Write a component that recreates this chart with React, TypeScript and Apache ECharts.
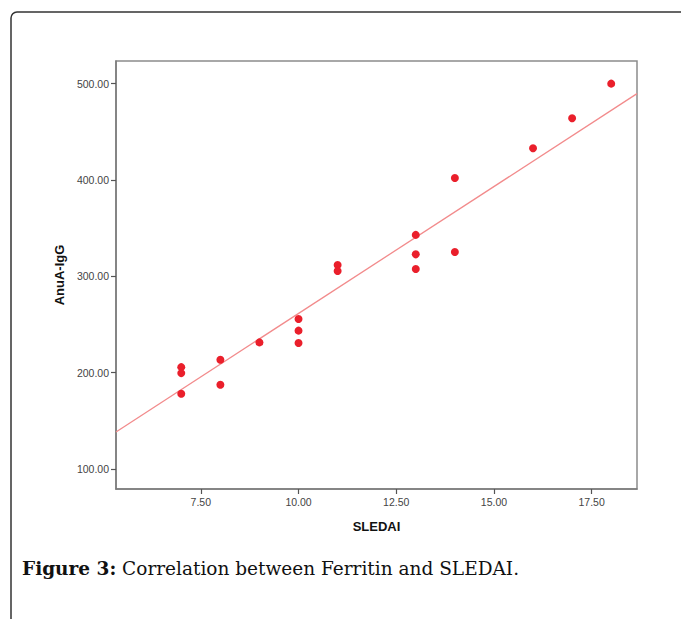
import React, { useEffect, useRef } from "react";
import * as echarts from "echarts";

const sledai = [7, 7, 7, 8, 8, 9, 10, 10, 10, 11, 11, 13, 13, 13, 14, 14, 16, 17, 18];
const anuaIgG = [205.7, 199.5, 178, 213.4, 187.4, 231.4, 255.7, 243.6, 230.8, 311.7, 305.5, 343, 322.8, 307.6, 402, 325.2, 433, 464, 500];
const fitX = [5.33, 18.66];
const fitY = [138.4, 489.6];
const xTicks = [7.5, 10, 12.5, 15, 17.5];
const yTicks = [100, 200, 300, 400, 500];
const xRange = [5.33, 18.66];
const yRange = [79.2, 523.5];
const xTitle = "SLEDAI";
const yTitle = "AnuA-IgG";
const captionBold = "Figure 3:";
const captionText = " Correlation between Ferritin and SLEDAI.";

export default function App() {
  const ref = useRef<HTMLDivElement>(null);
  useEffect(() => {
    document.body.style.margin = "0";
    const chart = echarts.init(ref.current!, null, { renderer: "svg" });
    const axisColor = "#7a7a7a";
    const labelStyle = { color: "#444", fontSize: 10.5, fontFamily: "Liberation Sans, Arial, sans-serif" };
    chart.setOption({
      animation: false,
      backgroundColor: "#ffffff",
      grid: {
        left: 116,
        top: 61,
        width: 521,
        height: 428,
        show: true,
        borderColor: "#8c8c8c",
        borderWidth: 1.5,
        backgroundColor: "transparent",
      },
      xAxis: {
        type: "value",
        min: xRange[0],
        max: xRange[1],
        name: xTitle,
        nameLocation: "middle",
        nameGap: 31,
        nameTextStyle: { fontSize: 13, fontWeight: "bold", color: "#111", fontFamily: "Liberation Sans, Arial, sans-serif" },
        splitLine: { show: false },
        axisLine: { show: true, onZero: false, lineStyle: { color: axisColor, width: 1.5 } },
        axisTick: { show: true, length: 5, customValues: xTicks, lineStyle: { color: "#555", width: 1.2 } },
        axisLabel: { ...labelStyle, margin: 7, customValues: xTicks, formatter: (v: number) => v.toFixed(2) },
      },
      yAxis: {
        type: "value",
        min: yRange[0],
        max: yRange[1],
        name: yTitle,
        nameLocation: "middle",
        nameGap: 48,
        nameRotate: 90,
        nameTextStyle: { fontSize: 13, fontWeight: "bold", color: "#111", fontFamily: "Liberation Sans, Arial, sans-serif" },
        splitLine: { show: false },
        axisLine: { show: true, onZero: false, lineStyle: { color: axisColor, width: 1.5 } },
        axisTick: { show: true, length: 5, customValues: yTicks, lineStyle: { color: "#555", width: 1.2 } },
        axisLabel: { ...labelStyle, margin: 7, customValues: yTicks, formatter: (v: number) => v.toFixed(2) },
      },
      series: [
        {
          type: "line",
          data: fitX.map((x, i) => [x, fitY[i]]),
          symbol: "none",
          silent: true,
          lineStyle: { color: "#f28b8c", width: 1.3 },
          z: 2,
        },
        {
          type: "scatter",
          data: sledai.map((x, i) => [x, anuaIgG[i]]),
          symbol: "circle",
          symbolSize: 8,
          itemStyle: { color: "#ea1f2b", opacity: 1 },
          z: 3,
        },
      ],
      graphic: [
        {
          type: "rect",
          shape: { x: 11, y: 12, width: 720, height: 700, r: 6 },
          style: { fill: "none", stroke: "#333", lineWidth: 1.5 },
          silent: true,
        },
        {
          type: "text",
          left: 22,
          top: 559,
          style: {
            text: "{b|" + captionBold + "}{r|" + captionText + "}",
            rich: {
              b: { fontFamily: "DejaVu Serif, serif", fontWeight: "bold", fontSize: 18.5, fill: "#111" },
              r: { fontFamily: "DejaVu Serif, serif", fontSize: 18.5, fill: "#111" },
            },
          },
        },
      ],
    });
    return () => chart.dispose();
  }, []);
  return <div ref={ref} style={{ width: 681, height: 619 }} />;
}
